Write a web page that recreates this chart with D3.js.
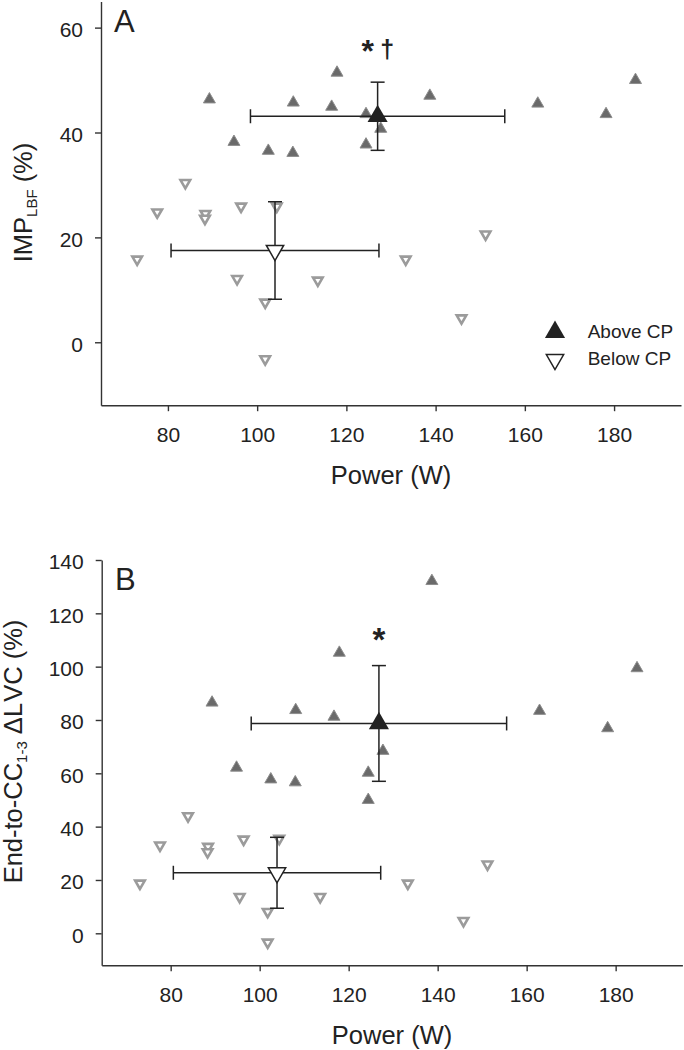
<!DOCTYPE html>
<html>
<head>
<meta charset="utf-8">
<script src="https://cdn.jsdelivr.net/npm/d3@7/dist/d3.min.js"></script>
<style>
  html, body { margin: 0; padding: 0; background: #fff; }
  svg { display: block; font-family: "Liberation Sans", Arial, sans-serif; }
</style>
</head>
<body>
<svg id="chart" width="684" height="1050"></svg>
<script>
// ---------------- data ----------------
const xTicks = [80, 100, 120, 140, 160, 180];
const yTicksA = [0, 20, 40, 60];
const yTicksB = [0, 20, 40, 60, 80, 100, 120, 140];

// Power (W) of each subject
const powerAbove = [89.3, 94.8, 102.5, 108.0, 108.1, 116.7, 117.9, 124.4, 124.4, 127.7, 138.7, 162.9, 178.2, 184.8];
const powerBelow = [73.1, 77.6, 83.9, 88.4, 88.3, 96.4, 95.5, 101.8, 101.8, 104.4, 113.6, 133.3, 145.8, 151.2];

// Panel A: IMP_LBF (%)
const impAbove = [46.3, 38.2, 36.5, 36.1, 45.7, 44.9, 51.4, 43.5, 37.7, 40.7, 47.0, 45.5, 43.5, 50.0];
const impBelow = [15.8, 24.8, 30.4, 24.5, 23.6, 25.9, 12.1, 7.6, -3.2, 25.9, 11.8, 15.8, 4.6, 20.6];

// Panel B: End-to-CC1-3 ΔLVC (%)
const lvcAbove = [86.5, 62.1, 57.7, 56.6, 83.7, 81.2, 105.2, 60.2, 50.0, 68.4, 132.1, 83.4, 76.9, 99.4];
const lvcBelow = [18.7, 33.0, 44.0, 32.5, 30.5, 35.2, 13.7, 8.1, -3.4, 35.5, 13.7, 18.7, 4.7, 25.9];

// Group means ± SD: [meanX, sdX, meanY, sdY]
const meanA_above = [127.0, 28.5, 43.1, 6.5];
const meanA_below = [104.0, 23.3, 17.5, 9.3];
const meanB_above = [126.8, 28.7, 78.7, 21.7];
const meanB_below = [103.9, 23.3, 22.7, 13.3];

const legendLabels = ["Above CP", "Below CP"];

// ---------------- drawing ----------------
const svg = d3.select("#chart");
const ink = "#222";

const triUp = size => d3.symbol().type(d3.symbolTriangle).size(size)();

function panel(cfg) {
  const { x, y, yTicks, above, below, pA, pB, mA, mB } = cfg;
  const g = svg.append("g");

  // axes
  const xAxis = d3.axisBottom(x).tickValues(xTicks).tickSize(6).tickPadding(16).tickSizeOuter(0);
  const yAxis = d3.axisLeft(y).tickValues(yTicks).tickSize(6).tickPadding(12).tickSizeOuter(0);
  const gx = g.append("g").attr("transform", `translate(0,${y.range()[0]})`).call(xAxis);
  const gy = g.append("g").attr("transform", `translate(${x.range()[0]},0)`).call(yAxis);
  [gx, gy].forEach(a => {
    a.select(".domain").attr("stroke", "#333").attr("stroke-width", 1.4);
    a.selectAll(".tick line").attr("stroke", "#333").attr("stroke-width", 1.4);
    a.selectAll(".tick text").attr("fill", ink).attr("font-size", 21)
      .attr("font-family", "'Liberation Sans', Arial, sans-serif");
  });
  gy.selectAll(".tick text").attr("dy", "0.42em");

  // individual points: below (open down triangles) then above (filled up)
  g.append("g").selectAll("path").data(pB.map((p, i) => [p, below[i]])).join("path")
    .attr("d", triUp(40))
    .attr("transform", d => `translate(${x(d[0])},${y(d[1])}) rotate(180)`)
    .attr("fill", "#fff").attr("stroke", "#9b9b9b").attr("stroke-width", 2.6);
  g.append("g").selectAll("path").data(pA.map((p, i) => [p, above[i]])).join("path")
    .attr("d", triUp(62))
    .attr("transform", d => `translate(${x(d[0])},${y(d[1])})`)
    .attr("fill", "#6a6a6a").attr("stroke", "#8d8d8d").attr("stroke-width", 1);

  // error bars + means
  const cap = 7;
  [mB, mA].forEach((m, k) => {
    const [mx, sx, my, sy] = m;
    const e = g.append("g").attr("stroke", ink).attr("stroke-width", 1.5).attr("fill", "none");
    e.append("line").attr("x1", x(mx - sx)).attr("x2", x(mx + sx)).attr("y1", y(my)).attr("y2", y(my));
    e.append("line").attr("x1", x(mx)).attr("x2", x(mx)).attr("y1", y(my - sy)).attr("y2", y(my + sy));
    [mx - sx, mx + sx].forEach(v => e.append("line").attr("x1", x(v)).attr("x2", x(v))
      .attr("y1", y(my) - cap).attr("y2", y(my) + cap));
    [my - sy, my + sy].forEach(v => e.append("line").attr("y1", y(v)).attr("y2", y(v))
      .attr("x1", x(mx) - cap).attr("x2", x(mx) + cap));
    if (k === 0) {
      g.append("path").attr("d", triUp(130))
        .attr("transform", `translate(${x(mx)},${y(my)}) rotate(180)`)
        .attr("fill", "#fff").attr("stroke", ink).attr("stroke-width", 1.5);
    } else {
      g.append("path").attr("d", triUp(175))
        .attr("transform", `translate(${x(mx)},${y(my)})`)
        .attr("fill", ink);
    }
  });

  // x title
  g.append("text").attr("x", (x.range()[0] + x.range()[1]) / 2).attr("y", y.range()[0] + 79)
    .attr("text-anchor", "middle").attr("font-size", 25.5).attr("fill", ink).text("Power (W)");
  return g;
}

// Panel A
const xA = d3.scaleLinear([65, 195], [101, 681]);
const yA = d3.scaleLinear([-12, 65], [405.2, 1.4]);
panel({ x: xA, y: yA, yTicks: yTicksA, above: impAbove, below: impBelow,
        pA: powerAbove, pB: powerBelow, mA: meanA_above, mB: meanA_below });

// Panel B
const xB = d3.scaleLinear([64.5, 195], [101.7, 682.4]);
const yB = d3.scaleLinear([-12, 140], [965.3, 560]);
panel({ x: xB, y: yB, yTicks: yTicksB, above: lvcAbove, below: lvcBelow,
        pA: powerAbove, pB: powerBelow, mA: meanB_above, mB: meanB_below });

// Y titles
const tA = svg.append("text").attr("transform", "translate(31.7,202.5) rotate(-90)")
  .attr("text-anchor", "middle").attr("font-size", 25.5).attr("fill", ink);
tA.append("tspan").text("IMP");
tA.append("tspan").attr("font-size", 15).attr("dy", 5).text("LBF");
tA.append("tspan").attr("dy", -5).text(" (%)");

const tB = svg.append("text").attr("transform", "translate(21.7,751.5) rotate(-90)")
  .attr("text-anchor", "middle").attr("font-size", 25.5).attr("fill", ink);
tB.append("tspan").text("End-to-CC");
tB.append("tspan").attr("font-size", 15).attr("dy", 5).text("1-3");
tB.append("tspan").attr("dy", -5).text(" ΔL");
tB.append("tspan").attr("dx", 3).text("VC (%)");

// Panel letters
svg.append("text").attr("x", 114).attr("y", 32.3).attr("font-size", 31).attr("fill", ink).text("A");
svg.append("text").attr("x", 115).attr("y", 590).attr("font-size", 31).attr("fill", ink).text("B");

// Significance marks
svg.append("text").attr("x", xA(meanA_above[0]) - 10).attr("y", 62).attr("text-anchor", "middle")
  .attr("font-size", 32).attr("font-weight", "bold").attr("fill", ink).text("*");
svg.append("text").attr("x", xA(meanA_above[0]) + 9.5).attr("y", 58).attr("text-anchor", "middle")
  .attr("font-size", 25).attr("font-weight", "bold").attr("fill", ink).text("†");
svg.append("text").attr("x", xB(meanB_above[0])).attr("y", 651).attr("text-anchor", "middle")
  .attr("font-size", 33).attr("font-weight", "bold").attr("fill", ink).text("*");

// Legend (panel A)
const leg = svg.append("g");
leg.append("path").attr("d", triUp(175)).attr("transform", "translate(555,332.2)").attr("fill", ink);
leg.append("path").attr("d", triUp(130)).attr("transform", "translate(555,359.6) rotate(180)")
  .attr("fill", "#fff").attr("stroke", ink).attr("stroke-width", 1.5);
leg.selectAll("text").data(legendLabels).join("text")
  .attr("x", 587.7).attr("y", (d, i) => i === 0 ? 338.3 : 365)
  .attr("font-size", 19).attr("fill", ink).text(d => d);
</script>
</body>
</html>
